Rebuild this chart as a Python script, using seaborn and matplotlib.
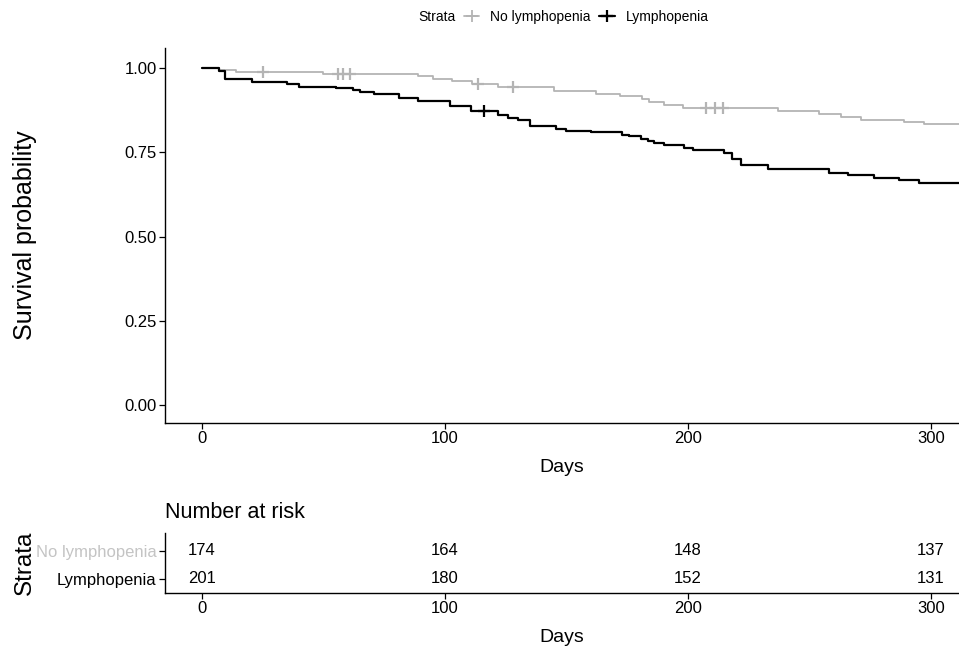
import numpy as np
import pandas as pd
import matplotlib
matplotlib.use("Agg")
import matplotlib.pyplot as plt
from matplotlib.lines import Line2D
import seaborn as sns

# survival curves (step points)
no_lymph_time = [0, 7, 14, 50, 89, 95, 103, 111, 122, 145, 162, 172, 181, 184, 190, 198, 237, 254, 263, 271, 289, 297, 315]
no_lymph_surv = [1.0, 0.996, 0.989, 0.982, 0.976, 0.967, 0.962, 0.954, 0.943, 0.932, 0.923, 0.917, 0.908, 0.900,
                 0.892, 0.882, 0.872, 0.863, 0.854, 0.845, 0.840, 0.834, 0.828]
lymph_time = [0, 7, 9.5, 20.5, 35, 40, 55, 62, 65, 70.6, 81, 89, 102, 110.6, 121.7, 126, 130, 135, 145.6, 149.8,
              160, 173, 175.7, 180.7, 183.5, 186, 190, 198.5, 202, 215, 218, 222, 233, 258, 266, 276.4, 286.7, 295, 315]
lymph_surv = [1.0, 0.992, 0.969, 0.959, 0.954, 0.944, 0.94, 0.935, 0.93, 0.923, 0.913, 0.902, 0.889, 0.873, 0.861,
              0.852, 0.846, 0.828, 0.821, 0.814, 0.811, 0.803, 0.798, 0.791, 0.783, 0.778, 0.773, 0.764, 0.756,
              0.747, 0.73, 0.712, 0.70, 0.689, 0.683, 0.673, 0.668, 0.658, 0.658]

# censor marks
no_lymph_cens_time = [25, 56, 58, 61, 113.5, 128, 207.5, 211, 214.5]
no_lymph_cens_surv = [0.989, 0.982, 0.982, 0.982, 0.954, 0.943, 0.882, 0.882, 0.882]
lymph_cens_time = [116]
lymph_cens_surv = [0.873]

# number at risk
strata = ["No lymphopenia", "Lymphopenia"]
risk_times = [0, 100, 200, 300]
risk_no_lymph = [174, 164, 148, 137]
risk_lymph = [201, 180, 152, 131]

grey = "#b4b4b4"
black = "#000000"

sns.set_style("white")
plt.rcParams["font.family"] = ["Liberation Sans", "DejaVu Sans"]
plt.rcParams["text.color"] = "black"
plt.rcParams["axes.labelcolor"] = "black"

fig = plt.figure(figsize=(9.59, 6.52), dpi=100)
ax = fig.add_axes([165 / 959, 1 - 423 / 652, 794 / 959, 375 / 652])
axt = fig.add_axes([165 / 959, 1 - 593 / 652, 794 / 959, 60 / 652])

curves = pd.concat([
    pd.DataFrame({"time": no_lymph_time, "surv": no_lymph_surv, "strata": strata[0]}),
    pd.DataFrame({"time": lymph_time, "surv": lymph_surv, "strata": strata[1]}),
])
cens = pd.concat([
    pd.DataFrame({"time": no_lymph_cens_time, "surv": no_lymph_cens_surv, "strata": strata[0]}),
    pd.DataFrame({"time": lymph_cens_time, "surv": lymph_cens_surv, "strata": strata[1]}),
])
pal = {strata[0]: grey, strata[1]: black}
lw = {strata[0]: 1.3, strata[1]: 1.6}

for s in strata:
    sns.lineplot(data=curves[curves.strata == s], x="time", y="surv", color=pal[s],
                 drawstyle="steps-post", estimator=None, linewidth=lw[s], ax=ax, legend=False)
    sns.scatterplot(data=cens[cens.strata == s], x="time", y="surv", color=pal[s],
                    marker="+", s=70, linewidth=1.6, ax=ax, legend=False)

xlim = (-15.2, 311.5)
for a in (ax, axt):
    a.set_xlim(*xlim)
    a.set_xticks([0, 100, 200, 300])
    for side in ("top", "right"):
        a.spines[side].set_visible(False)
    for side in ("left", "bottom"):
        a.spines[side].set_color("black")
        a.spines[side].set_linewidth(1.0)
    a.tick_params(axis="both", length=4, width=0.9, color="black", labelsize=12, pad=2,
                  bottom=True, left=True, labelcolor="black")

ax.set_ylim(-0.053, 1.06)
ax.set_yticks([0, 0.25, 0.5, 0.75, 1.0])
ax.set_yticklabels(["0.00", "0.25", "0.50", "0.75", "1.00"])
ax.set_xlabel("Days", fontsize=14)
ax.xaxis.set_label_coords(0.5, -0.097)
ax.set_ylabel("Survival probability", fontsize=18)
ax.yaxis.set_label_coords(-0.176, 0.5)
ax.yaxis.label.set_va("center")

# risk table
axt.set_ylim(-0.5, 1.64)
axt.set_yticks([0, 1])
axt.set_yticklabels([strata[1], strata[0]])
axt.get_yticklabels()[1].set_color("#c4c4c4")
for t, n0, n1 in zip(risk_times, risk_no_lymph, risk_lymph):
    axt.text(t, 1, str(n0), ha="center", va="center", fontsize=12)
    axt.text(t, 0, str(n1), ha="center", va="center", fontsize=12)
axt.set_xlabel("Days", fontsize=14)
axt.xaxis.set_label_coords(0.5, -0.6)
axt.set_ylabel("Strata", fontsize=17.5)
axt.yaxis.set_label_coords(-0.176, 0.5)
axt.yaxis.label.set_va("center")
axt.set_title("Number at risk", loc="left", fontsize=15.5, pad=11)

# legend on top
fig.text(418 / 959, 1 - 17 / 652, "Strata", fontsize=10, ha="left", va="center")
handles = [Line2D([], [], color=grey, lw=1.3, marker="+", markersize=8, mew=1.3),
           Line2D([], [], color=black, lw=1.6, marker="+", markersize=8, mew=1.6)]
fig.legend(handles, strata, loc="center left", bbox_to_anchor=(464 / 959, 1 - 17 / 652), ncol=2,
           frameon=False, fontsize=10, handlelength=1.1, handletextpad=0.8, columnspacing=0.6,
           borderpad=0, borderaxespad=0)

fig.savefig("out.png", dpi=100)
